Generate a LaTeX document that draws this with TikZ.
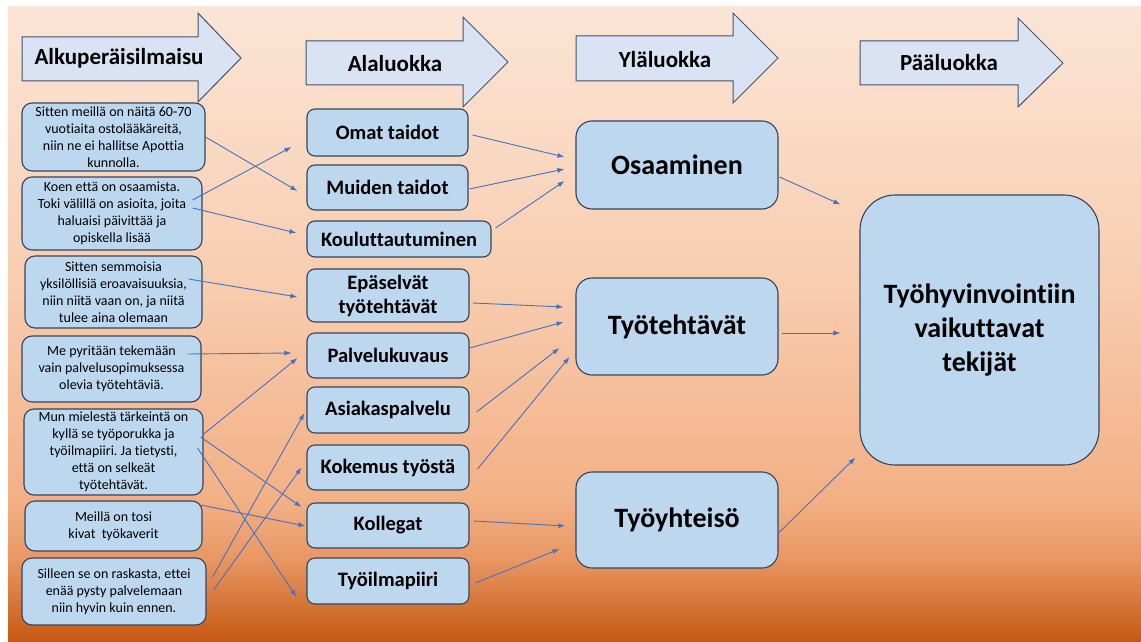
\documentclass[tikz,border=0pt]{standalone}
\usepackage{fontspec}
\setmainfont{Carlito}[Ligatures=NoCommon]
\usetikzlibrary{arrows.meta}
\frenchspacing

\definecolor{boxfill}{RGB}{189,215,238}
\definecolor{boxline}{RGB}{52,68,92}
\definecolor{hdrfill}{RGB}{218,227,243}
\definecolor{hdrline}{RGB}{68,84,106}
\definecolor{linkcol}{RGB}{68,114,196}
\definecolor{bgA}{RGB}{251,229,214}
\definecolor{bgB}{RGB}{248,205,176}
\definecolor{bgC}{RGB}{243,176,133}
\definecolor{bgD}{RGB}{232,150,98}
\definecolor{bgE}{RGB}{197,88,18}

\tikzset{
  quotebox/.style={draw=boxline,fill=boxfill,line width=1.1pt,rounded corners=10pt,
    inner sep=0pt,align=center,font=\fontsize{14}{17}\selectfont},
  subbox/.style={draw=boxline,fill=boxfill,line width=1.1pt,rounded corners=8pt,
    inner sep=0pt,align=center,font=\bfseries\fontsize{20.5}{24}\selectfont},
  upbox/.style={draw=boxline,fill=boxfill,line width=1.1pt,rounded corners=16pt,
    inner sep=0pt,align=center,font=\bfseries\fontsize{28}{34}\selectfont},
  hdrarrow/.style={draw=hdrline,fill=hdrfill,line width=1pt},
  hdrtext/.style={inner sep=0pt,font=\bfseries\fontsize{23}{28}\selectfont},
  link/.style={draw=linkcol,line width=0.9pt,-{Latex[length=7pt,width=5pt]}}
}

\begin{document}
\begin{tikzpicture}[x=1pt,y=-1pt]
  \useasboundingbox (0,0) rectangle (1141,642);
  % background
  \fill[white] (0,0) rectangle (1141,642);
  \shade[top color=bgA,bottom color=bgB] (8,7) rectangle (1141,281);
  \shade[top color=bgB,bottom color=bgC] (8,280) rectangle (1141,501);
  \shade[top color=bgC,bottom color=bgD] (8,500) rectangle (1141,561);
  \shade[top color=bgD,bottom color=bgE] (8,560) rectangle (1141,642);

  % column headers
  \draw[hdrarrow] (22,37) -- (198,37) -- (198,13) -- (241,58) -- (198,102) -- (198,81) -- (22,81) -- cycle;
  \draw[hdrarrow] (306,41) -- (463,41) -- (463,17) -- (508,62) -- (463,107) -- (463,85) -- (306,85) -- cycle;
  \draw[hdrarrow] (576,36) -- (733,36) -- (733,13) -- (778,58) -- (733,103) -- (733,81) -- (576,81) -- cycle;
  \draw[hdrarrow] (860,41) -- (1018,41) -- (1018,18) -- (1063,63) -- (1018,107) -- (1018,85) -- (860,85) -- cycle;
  \node[hdrtext] (h1) at (119,58) {Alkuperäisilmaisu};
  \node[hdrtext] (h2) at (395,64) {Alaluokka};
  \node[hdrtext] (h3) at (665,60) {Yläluokka};
  \node[hdrtext] (h4) at (949,63) {Pääluokka};

  % original expressions
  \node[quotebox,minimum width=183pt,minimum height=68pt] (q1) at (113.5,137)
    {Sitten meillä on näitä 60-70\\vuotiaita ostolääkäreitä,\\niin ne ei hallitse Apottia\\kunnolla.};
  \node[quotebox,minimum width=180pt,minimum height=73pt] (q2) at (112,213.5)
    {Koen että on osaamista.\\Toki välillä on asioita, joita\\haluaisi päivittää ja\\opiskella lisää};
  \node[quotebox,minimum width=177pt,minimum height=72pt] (q3) at (113.5,292)
    {Sitten semmoisia\\yksilöllisiä eroavaisuuksia,\\niin niitä vaan on, ja niitä\\tulee aina olemaan};
  \node[quotebox,minimum width=179pt,minimum height=66pt] (q4) at (111.5,369)
    {Me pyritään tekemään\\vain palvelusopimuksessa\\olevia työtehtäviä.};
  \node[quotebox,minimum width=179pt,minimum height=86pt] (q5) at (113.5,452)
    {Mun mielestä tärkeintä on\\kyllä se työporukka ja\\työilmapiiri. Ja tietysti,\\että on selkeät\\työtehtävät.};
  \node[quotebox,minimum width=177pt,minimum height=50pt] (q6) at (113.5,526)
    {Meillä on tosi\\kivat\ \ työkaverit};
  \node[quotebox,minimum width=184pt,minimum height=67pt] (q7) at (114,591.5)
    {Silleen se on raskasta, ettei\\enää pysty palvelemaan\\niin hyvin kuin ennen.};

  % sub categories
  \node[subbox,minimum width=161pt,minimum height=47pt] (a1) at (387.5,132.5) {Omat taidot};
  \node[subbox,minimum width=161pt,minimum height=45pt] (a2) at (387.5,187.5) {Muiden taidot};
  \node[subbox,minimum width=184pt,minimum height=36pt] (a3) at (399,239) {Kouluttautuminen};
  \node[subbox,minimum width=162pt,minimum height=53pt] (a4) at (388,295.5) {Epäselvät\\työtehtävät};
  \node[subbox,minimum width=162pt,minimum height=45pt] (a5) at (388,355.5) {Palvelukuvaus};
  \node[subbox,minimum width=162pt,minimum height=46pt] (a6) at (388,410) {Asiakaspalvelu};
  \node[subbox,minimum width=162pt,minimum height=45pt] (a7) at (388,467.5) {Kokemus työstä};
  \node[subbox,minimum width=162pt,minimum height=45pt] (a8) at (388,525.5) {Kollegat};
  \node[subbox,minimum width=162pt,minimum height=46pt] (a9) at (388,581) {Työilmapiiri};

  % upper categories
  \node[upbox,minimum width=202pt,minimum height=88pt] (b1) at (677,165) {Osaaminen};
  \node[upbox,minimum width=202pt,minimum height=97pt] (b2) at (677,326.5) {Työtehtävät};
  \node[upbox,minimum width=202pt,minimum height=96pt] (b3) at (677,520) {Työyhteisö};

  % main category
  \node[upbox,rounded corners=35pt,minimum width=239pt,minimum height=270pt] (c) at (979.5,330)
    {Työhyvinvointiin\\vaikuttavat\\tekijät};

  % expressions to sub categories
  \draw[link] (q1.east) -- ([xshift=-9pt,yshift=-3.5pt]a2.west);
  \draw[link] ([xshift=-10pt,yshift=13.5pt]q2.east) -- ([xshift=-15pt,yshift=-14.5pt]a1.west);
  \draw[link] ([xshift=-10pt,yshift=5.5pt]q2.east) -- ([xshift=-10pt,yshift=6pt]a3.west);
  \draw[link] ([xshift=-14pt,yshift=13pt]q3.east) -- ([xshift=-9pt,yshift=-1.5pt]a4.west);
  \draw[link] ([xshift=-14pt,yshift=15pt]q4.east) -- ([xshift=-15pt,yshift=2.5pt]a5.west);
  \draw[link] ([xshift=-1pt,yshift=17pt]q5.east) -- ([xshift=-9pt,yshift=-2.5pt]a5.west);
  \draw[link] ([xshift=-3pt,yshift=15pt]q5.east) -- ([xshift=-5pt,yshift=18.5pt]a8.west);
  \draw[link] ([xshift=-6pt,yshift=4pt]q5.east) -- ([xshift=-10pt,yshift=-16pt]a9.west);
  \draw[link] ([xshift=-2pt,yshift=21pt]q6.east) -- ([xshift=-1pt,yshift=-0.5pt]a8.west);
  \draw[link] ([xshift=6pt,yshift=14.5pt]q7.east) -- ([xshift=-2pt,yshift=-3pt]a6.west);
  \draw[link] ([xshift=7pt,yshift=1.5pt]q7.east) -- ([xshift=-5pt]a7.west);

  % sub to upper categories
  \draw[link] ([xshift=4pt,yshift=-2.5pt]a1.east) -- ([xshift=-11pt,yshift=8pt]b1.west);
  \draw[link] ([xshift=1pt,yshift=-1.5pt]a2.east) -- ([xshift=-11pt,yshift=-4pt]b1.west);
  \draw[link] ([xshift=4pt,yshift=11pt]a3.east) -- ([xshift=-11pt,yshift=-16pt]b1.west);
  \draw[link] ([xshift=3pt,yshift=-7.5pt]a4.east) -- ([xshift=-12pt,yshift=19.5pt]b2.west);
  \draw[link] ([yshift=7.5pt]a5.east) -- ([xshift=-12pt,yshift=4.5pt]b2.west);
  \draw[link] ([xshift=7pt,yshift=-2pt]a6.east) -- ([xshift=-16pt,yshift=-21.5pt]b2.west);
  \draw[link] ([xshift=8pt,yshift=-1.5pt]a7.east) -- ([xshift=-6pt,yshift=-30.5pt]b2.west);
  \draw[link] ([xshift=4pt,yshift=4.5pt]a8.east) -- ([xshift=-10pt,yshift=-6pt]b3.west);
  \draw[link] ([xshift=6pt,yshift=-2pt]a9.east) -- ([xshift=-16pt,yshift=-29pt]b3.west);

  % upper to main category
  \draw[link] ([xshift=1pt,yshift=-12pt]b1.east) -- ([xshift=-19pt,yshift=-10pt]c.north west);
  \draw[link] ([xshift=3pt,yshift=-6.5pt]b2.east) -- ([xshift=-19pt,yshift=-3pt]c.west);
  \draw[link] ([yshift=-13pt]b3.east) -- ([xshift=-4pt,yshift=8pt]c.south west);
\end{tikzpicture}
\end{document}
